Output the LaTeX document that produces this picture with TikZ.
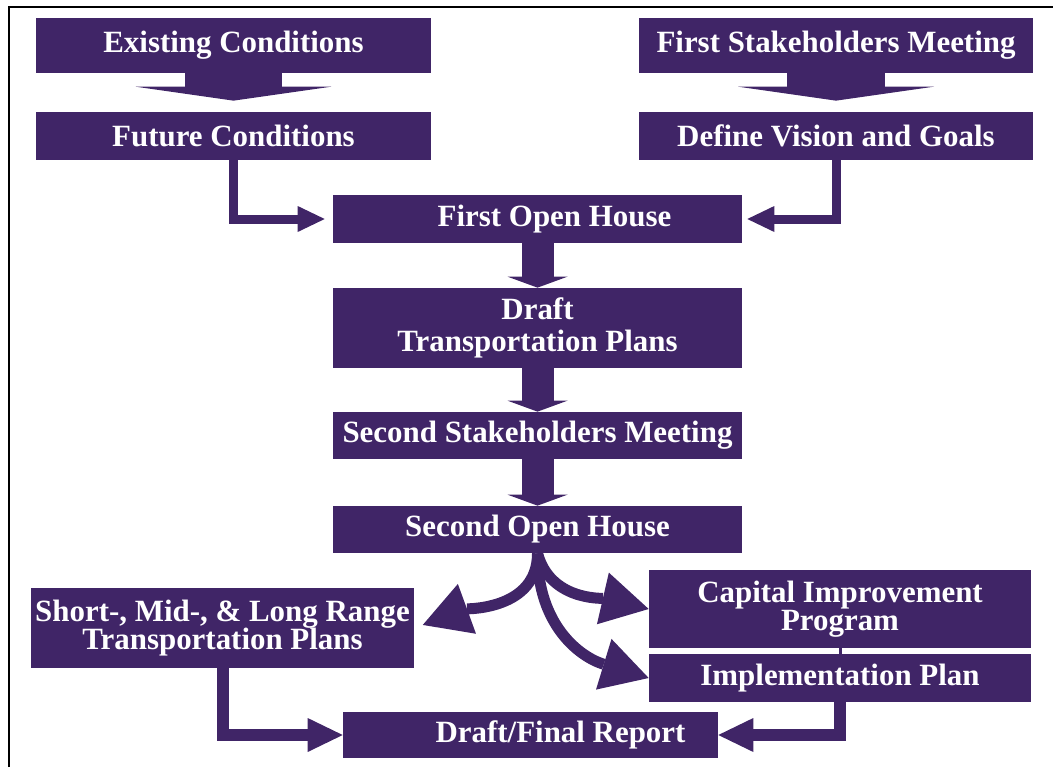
\documentclass[tikz,border=0pt]{standalone}
\usepackage{fontspec}
\setmainfont{Liberation Serif}
\usetikzlibrary{arrows.meta}
\usetikzlibrary{positioning}
\definecolor{flowpurple}{RGB}{64,37,103}
\tikzset{
    Box/.style = {rectangle, fill=flowpurple, text=white, inner sep=0pt, align=center}
}
\tikzset{
    Wide/.style = {draw=flowpurple, line width=1.96cm, -{Triangle[width=3.92cm, length=0.28cm, line width=0pt]}},
    Down/.style = {draw=flowpurple, line width=0.64cm, -{Triangle[width=1.2cm, length=0.22cm, line width=0pt]}},
    Elbow/.style = {draw=flowpurple, line width=0.18cm, -{Triangle[width=0.52cm, length=0.54cm, line width=0pt]}},
    ElbowBig/.style = {draw=flowpurple, line width=0.24cm, -{Triangle[width=0.68cm, length=0.7cm, line width=0pt]}},
    Curve/.style = {draw=flowpurple, line width=0.22cm, -{Triangle[width=1.06cm, length=0.94cm, line width=0pt]}}
}

\begin{document}
\begin{tikzpicture}[
    x=0.02cm, y=0.02cm,
    font=\fontsize{17.6}{21}\selectfont\bfseries
]
\useasboundingbox (0,0) rectangle (1053,-767);
\draw[line width=0.03cm] (9,-767) -- (9,-7) -- (1053,-7);

% top row
\node[Box, minimum width=7.9cm, minimum height=1.1cm] at (233.5,-45.5) (exist) {Existing Conditions};
\node[Box, minimum width=7.9cm, minimum height=0.96cm] at (233.5,-136) (future) {Future Conditions};
\node[Box, minimum width=7.88cm, minimum height=1.1cm] at (836,-45.5) (stake1) {First Stakeholders Meeting};
\node[Box, minimum width=7.88cm, minimum height=0.96cm] at (836,-136) (vision) {Define Vision and Goals};

% middle column
\node[Box, minimum width=8.18cm, minimum height=0.96cm] at (537.5,-219) (open1) {\hspace*{0.68cm}First Open House};
\node[Box, minimum width=8.18cm, minimum height=1.6cm] at (537.5,-328) (draft) {Draft\\[-2.4pt]Transportation Plans};
\node[Box, minimum width=8.18cm, minimum height=0.94cm] at (537.5,-435.5) (stake2) {Second Stakeholders Meeting};
\node[Box, minimum width=8.18cm, minimum height=0.94cm] at (537.5,-529.5) (open2) {Second Open House};

% outcomes
\node[Box, minimum width=7.66cm, minimum height=1.6cm] at (222.5,-628) (range) {Short-, Mid-, \& Long Range\\[-4.8pt]Transportation Plans};
\node[Box, minimum width=7.64cm, minimum height=1.56cm] at (840,-609) (cip) {Capital Improvement\\[-4.8pt]Program};
\node[Box, minimum width=7.64cm, minimum height=0.96cm] at (840,-678) (impl) {Implementation Plan};
\node[Box, minimum width=7.5cm, minimum height=0.92cm] at (530.5,-735) (report) {\hspace*{1.2cm}Draft/Final Report};

\path (exist) edge [Wide, shorten >=0.22cm] (future);
\path (stake1) edge [Wide, shorten >=0.22cm] (vision);
\draw[Elbow, shorten >=0.16cm] (future) |- (open1);
\draw[Elbow, shorten >=0.1cm] (vision) |- (open1);
\path (open1) edge [Down] (draft);
\path (draft) edge [Down] (stake2);
\path (stake2) edge [Down] (open2);
\draw[Curve, shorten >=0.18cm] (open2.south) to[out=-90, in=20] (range.east);
\draw[Curve] (open2.south) to[out=-75, in=167] (cip.west);
\draw[Curve] (open2.south) to[out=-90, in=163, looseness=1.1] (impl.west);
\draw[flowpurple, line width=0.06cm] (cip) -- (impl);
\draw[ElbowBig] (range) |- (report);
\draw[ElbowBig] (impl) |- (report);
\end{tikzpicture}
\end{document}
